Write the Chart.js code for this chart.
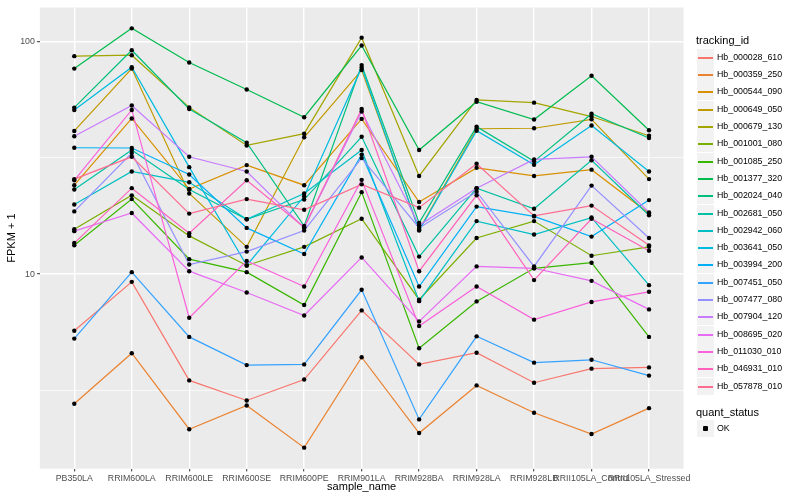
<!DOCTYPE html>
<html><head><meta charset="utf-8">
<script src="https://cdn.jsdelivr.net/npm/chart.js@4.4.1/dist/chart.umd.min.js"></script>
<style>
html,body{margin:0;padding:0;background:#fff;}
#wrap{position:relative;width:800px;height:500px;font-family:"Liberation Sans",Arial,sans-serif;overflow:hidden;}
#c{position:absolute;left:0;top:0;}
.lt{position:absolute;font-size:11px;color:#000;line-height:13px;white-space:nowrap;}
.li{position:absolute;height:17px;}
.lk{position:absolute;left:0;top:0;width:17px;height:17px;background:#F2F2F2;}
.ll{position:absolute;left:1px;top:8px;width:15px;height:1.5px;}
.lx{position:absolute;left:20px;top:0;line-height:17px;font-size:8.8px;color:#000;white-space:nowrap;}
.ld{position:absolute;left:6px;top:6px;width:5px;height:5px;background:#000;border-radius:1px;}
</style></head><body>
<div id="wrap"><canvas id="c" width="800" height="500"></canvas><div id="legend"></div></div>
<script>
// ---- data ----
const categories = ["PB350LA","RRIM600LA","RRIM600LE","RRIM600SE","RRIM600PE","RRIM901LA","RRIM928BA","RRIM928LA","RRIM928LB","RRII105LA_Control","RRII105LA_Stressed"];
const trackingIds = ["Hb_000028_610","Hb_000359_250","Hb_000544_090","Hb_000649_050","Hb_000679_130","Hb_001001_080","Hb_001085_250","Hb_001377_320","Hb_002024_040","Hb_002681_050","Hb_002942_060","Hb_003641_050","Hb_003994_200","Hb_007451_050","Hb_007477_080","Hb_007904_120","Hb_008695_020","Hb_011030_010","Hb_046931_010","Hb_057878_010"];
const seriesColors = ["#F8766D","#EA8331","#D89000","#C09B00","#A3A500","#7CAE00","#39B600","#00BB4E","#00BF7D","#00C1A3","#00BFC4","#00BAE0","#00B0F6","#35A2FF","#9590FF","#C77CFF","#E76BF3","#FA62DB","#FF62BC","#FF6C91"];
const yTicks = [3.1623, 10, 31.623, 100];
const yLabels = {10: "10", 100: "100"};

const Hb_000028_610 = [5.72, 9.27, 3.50, 2.87, 3.53, 6.99, 4.10, 4.60, 3.42, 3.93, 3.98];
const Hb_000359_250 = [2.78, 4.58, 2.16, 2.73, 1.80, 4.40, 2.08, 3.33, 2.54, 2.06, 2.66];
const Hb_000544_090 = [24.1, 46.6, 23.2, 29.4, 24.1, 46.4, 20.4, 28.6, 26.4, 28.1, 18.2];
const Hb_000649_050 = [41.2, 76.3, 22.2, 13.1, 38.7, 75.2, 15.5, 42.1, 42.3, 46.2, 25.6];
const Hb_000679_130 = [86.3, 87.1, 52.0, 35.7, 40.1, 103.6, 26.4, 56.0, 54.5, 47.5, 39.3];
const Hb_001001_080 = [15.6, 21.8, 14.6, 10.9, 13.1, 17.3, 7.77, 14.3, 16.9, 12.0, 13.1];
const Hb_001085_250 = [13.3, 21.0, 11.6, 10.2, 7.37, 22.5, 4.81, 7.64, 10.6, 11.2, 5.38];
const Hb_001377_320 = [76.3, 113.6, 81.0, 62.1, 47.2, 95.8, 34.1, 55.0, 46.1, 71.1, 41.5];
const Hb_002024_040 = [51.9, 91.5, 51.2, 36.7, 16.1, 79.0, 16.6, 43.0, 30.5, 48.8, 38.4];
const Hb_002681_050 = [23.1, 34.1, 23.1, 17.2, 20.9, 38.9, 11.9, 23.4, 19.1, 30.8, 17.9];
const Hb_002942_060 = [19.9, 27.6, 24.8, 17.2, 22.2, 34.1, 7.66, 16.9, 14.8, 17.5, 8.97];
const Hb_003641_050 = [50.7, 77.4, 28.8, 10.9, 21.6, 77.2, 15.4, 41.3, 29.5, 43.5, 27.6];
const Hb_003994_200 = [34.9, 34.8, 26.8, 15.8, 12.2, 32.6, 8.85, 19.5, 17.7, 14.5, 20.8];
const Hb_007451_050 = [5.29, 10.2, 5.38, 4.07, 4.10, 8.57, 2.38, 5.41, 4.17, 4.29, 3.67];
const Hb_007477_080 = [18.6, 33.1, 11.0, 12.5, 15.4, 31.5, 15.8, 22.6, 10.8, 24.0, 14.3];
const Hb_007904_120 = [39.1, 53.0, 31.9, 27.6, 15.8, 49.9, 16.2, 23.4, 31.1, 31.9, 18.4];
const Hb_008695_020 = [15.3, 18.3, 10.3, 8.34, 6.65, 11.8, 6.27, 10.8, 10.6, 9.36, 7.06];
const Hb_011030_010 = [25.3, 50.7, 6.50, 11.4, 8.85, 25.4, 5.99, 8.85, 6.38, 7.60, 8.40];
const Hb_046931_010 = [13.6, 23.4, 15.0, 25.3, 15.9, 51.2, 10.3, 21.8, 9.43, 17.3, 12.6];
const Hb_057878_010 = [25.6, 31.9, 18.2, 21.0, 18.9, 24.3, 19.3, 29.8, 17.8, 19.7, 13.3];

const seriesValues = [Hb_000028_610, Hb_000359_250, Hb_000544_090, Hb_000649_050, Hb_000679_130, Hb_001001_080, Hb_001085_250, Hb_001377_320, Hb_002024_040, Hb_002681_050, Hb_002942_060, Hb_003641_050, Hb_003994_200, Hb_007451_050, Hb_007477_080, Hb_007904_120, Hb_008695_020, Hb_011030_010, Hb_046931_010, Hb_057878_010];

// ---- datasets ----
const datasets = [];
seriesValues.forEach((vals, i) => {
  datasets.push({
    type: 'line', label: trackingIds[i], data: vals.map((v, k) => ({x: k, y: v})),
    borderColor: seriesColors[i], backgroundColor: seriesColors[i], borderWidth: 1.2,
    pointRadius: 0, tension: 0, fill: false, order: 100 - i
  });
});
seriesValues.forEach((vals, i) => {
  datasets.push({
    type: 'scatter', label: trackingIds[i] + ' OK', data: vals.map((v, k) => ({x: k, y: v})),
    backgroundColor: '#000', borderColor: '#000', pointRadius: 2.2, pointBorderWidth: 0,
    pointStyle: 'circle', showLine: false, order: 0
  });
});

const bgPlugin = {
  id: 'bg',
  beforeDraw(chart) {
    const {ctx, chartArea: a} = chart;
    ctx.save(); ctx.fillStyle = '#EBEBEB';
    ctx.fillRect(a.left, a.top, a.right - a.left, a.bottom - a.top);
    ctx.restore();
  }
};

const isMajor = v => v === 10 || v === 100;
const tickFont = {family: '"Liberation Sans", Arial, sans-serif', size: 8.8};

new Chart(document.getElementById('c'), {
  data: {datasets},
  options: {
    responsive: false, animation: false, devicePixelRatio: 1,
    layout: {padding: {left: 0, right: 116.5, top: 5.4, bottom: 0}},
    plugins: {legend: {display: false}, tooltip: {enabled: false}},
    scales: {
      x: {
        type: 'linear', min: -0.6, max: 10.6, offset: false,
        afterBuildTicks: s => { s.ticks = categories.map((c, i) => ({value: i})); },
        afterFit: s => { s.height = 31.3; },
        ticks: {autoSkip: false, maxRotation: 0, minRotation: 0, padding: 1.5, color: '#4D4D4D', font: tickFont,
          callback: v => categories[v]},
        grid: {color: '#FFFFFF', lineWidth: 1.4, drawTicks: true, tickLength: 2.75, tickColor: '#333333', tickWidth: 1},
        border: {display: false},
        title: {display: true, text: 'sample_name', color: '#000', font: {family: '"Liberation Sans", Arial, sans-serif', size: 11}, padding: {top: 0, bottom: 6.2}}
      },
      y: {
        type: 'logarithmic', min: 1.462, max: 139.6,
        afterBuildTicks: s => { s.ticks = yTicks.map(v => ({value: v})); },
        afterFit: s => { s.width = 39.8; },
        ticks: {padding: 2.2, color: '#4D4D4D', font: tickFont, autoSkip: false,
          callback: v => yLabels[v] || ''},
        grid: {color: '#FFFFFF', lineWidth: c => (c.tick && isMajor(c.tick.value)) ? 1.4 : 0.7,
          drawTicks: true, tickLength: 2.75, tickWidth: 1,
          tickColor: c => (c.tick && isMajor(c.tick.value)) ? '#333333' : 'rgba(0,0,0,0)'},
        border: {display: false},
        title: {display: true, text: 'FPKM + 1', color: '#000', font: {family: '"Liberation Sans", Arial, sans-serif', size: 11}, padding: {top: 5.4, bottom: 0}}
      }
    }
  },
  plugins: [bgPlugin]
});

// ---- legend (HTML) ----
const lg = document.getElementById('legend');
function add(html) { lg.insertAdjacentHTML('beforeend', html); }
add('<div class="lt" style="left:696px;top:34px;">tracking_id</div>');
trackingIds.forEach((name, i) => {
  const top = Math.round(57.3 + 17.3 * i - 8.5);
  add('<div class="li" style="left:697px;top:' + top + 'px;"><div class="lk"><div class="ll" style="background:' + seriesColors[i] + '"></div></div><div class="lx">' + name + '</div></div>');
});
add('<div class="lt" style="left:696px;top:406px;">quant_status</div>');
add('<div class="li" style="left:697px;top:420px;"><div class="lk"><div class="ld"></div></div><div class="lx">OK</div></div>');
</script>
</body></html>
